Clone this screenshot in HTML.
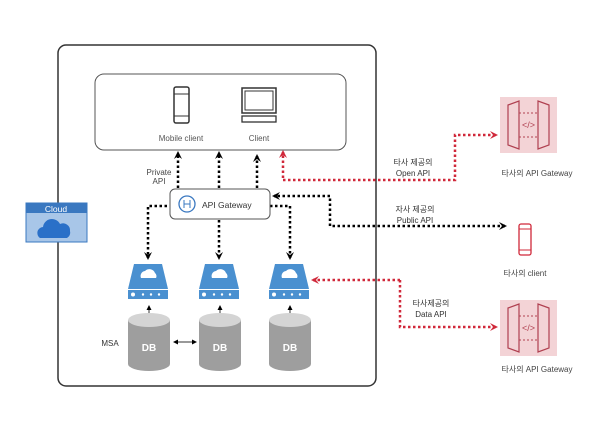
<!DOCTYPE html>
<html><head><meta charset="utf-8"><style>
body{margin:0;background:#fff;}
svg text{font-family:"Liberation Sans","Noto Sans CJK KR",sans-serif;}
</style></head><body>
<svg width="614" height="434" viewBox="0 0 614 434" xmlns="http://www.w3.org/2000/svg">
<defs>
<marker id="ab" markerWidth="8" markerHeight="8" refX="6" refY="4" orient="auto-start-reverse" markerUnits="userSpaceOnUse"><path d="M0,0 L8,4 L0,8 L3,4Z" fill="#000"/></marker>
<marker id="ar" markerWidth="8" markerHeight="8" refX="6" refY="4" orient="auto-start-reverse" markerUnits="userSpaceOnUse"><path d="M0,0 L8,4 L0,8 L3,4Z" fill="#d0283a"/></marker>
<marker id="as" markerWidth="5" markerHeight="5" refX="4" refY="2.5" orient="auto-start-reverse" markerUnits="userSpaceOnUse"><path d="M0,0 L5,2.5 L0,5Z" fill="#000"/></marker>
<g id="srv"><path d="M-14,-17 L14,-17 L20,8 L-20,8Z" fill="#4a90d0"/><path d="M-7,-3 a5,5 0 0 1 4,-7 a6,6 0 0 1 10,2 a4,4 0 0 1 1,5Z" fill="#fff"/><rect x="-20" y="9" width="40" height="9" fill="#4a90d0"/><circle cx="-15" cy="13.5" r="2" fill="#fff"/><circle cx="-5" cy="13.5" r="1.2" fill="#fff"/><circle cx="3" cy="13.5" r="1.2" fill="#fff"/><circle cx="11" cy="13.5" r="1.2" fill="#fff"/></g>
<g id="db"><path d="M-21,-22 L-21,22 A21,7 0 0 0 21,22 L21,-22Z" fill="#9e9e9e"/><ellipse cx="0" cy="-22" rx="21" ry="7" fill="#d4d4d4"/><text x="0" y="9" font-size="10" font-weight="bold" fill="#fff" text-anchor="middle">DB</text></g>
<g id="gw"><rect x="0" y="0" width="57" height="56" fill="#f3d3d6"/><path d="M8,8 L19,4 L19,52 L8,48Z M49,8 L38,4 L38,52 L49,48Z" fill="none" stroke="#b04050" stroke-width="1.2"/><path d="M19,16 H38 M19,40 H38" stroke="#b04050" stroke-dasharray="2,2"/><text x="28.5" y="31" font-size="9" fill="#b04050" text-anchor="middle">&lt;/&gt;</text></g>
</defs>
<rect x="58" y="45" width="318" height="341" rx="8" fill="none" stroke="#333" stroke-width="1.5"/>
<rect x="95" y="74" width="251" height="76" rx="9" fill="#fff" stroke="#555"/>
<rect x="174" y="87" width="15" height="36" rx="2" fill="none" stroke="#333" stroke-width="1.5"/><line x1="174" y1="94" x2="189" y2="94" stroke="#333"/><line x1="174" y1="116" x2="189" y2="116" stroke="#333"/>
<rect x="242" y="88" width="34" height="25" fill="none" stroke="#333" stroke-width="1.5"/><rect x="245" y="91" width="28" height="19" fill="none" stroke="#333"/><rect x="242" y="116" width="34" height="6" fill="none" stroke="#333" stroke-width="1.3"/>
<text x="181" y="141" font-size="8" fill="#555" text-anchor="middle">Mobile client</text>
<text x="259" y="141" font-size="8" fill="#555" text-anchor="middle">Client</text>
<rect x="26" y="203" width="61" height="39" fill="#a8c6e8" stroke="#3a78c0"/><rect x="26" y="203" width="61" height="10" fill="#3a78c0"/><text x="56" y="212" font-size="8.5" fill="#fff" text-anchor="middle">Cloud</text>
<path d="M40,238 a6,6 0 0 1 3,-11 a9,9 0 0 1 17,-3 a7,7 0 0 1 10,7 a6,6 0 0 1 -3,7Z" fill="#2a70c8"/>
<g stroke="#000" stroke-width="2.5" stroke-dasharray="2.5,2.5" fill="none">
<path d="M178,188 V153" marker-end="url(#ab)"/><path d="M219,188 V153" marker-end="url(#ab)"/><path d="M257,188 V156" marker-end="url(#ab)"/>
<path d="M172,206 H148 V258" marker-end="url(#ab)"/><path d="M219,220 V258" marker-end="url(#ab)"/><path d="M270,206 H290 V258" marker-end="url(#ab)"/>
<path d="M505,226 H330 V196 H274" marker-start="url(#ab)" marker-end="url(#ab)"/>
</g>
<g stroke="#d0283a" stroke-width="2.5" stroke-dasharray="2.5,2.5" fill="none">
<path d="M283,178 V152" marker-end="url(#ar)"/><path d="M283,180 H455 V135 H496" marker-end="url(#ar)"/>
<path d="M400,280 H313" marker-end="url(#ar)"/><path d="M400,280 V327 H496" marker-end="url(#ar)"/>
</g>
<rect x="170" y="189" width="100" height="30" rx="5" fill="#fff" stroke="#555"/>
<circle cx="187" cy="204" r="8" fill="none" stroke="#3a78c0" stroke-width="1.3"/><path d="M184,200 V208 M190,200 V208 M184,204 H190" stroke="#3a78c0"/>
<text x="202" y="208" font-size="8.5" fill="#333">API Gateway</text>
<text x="159" y="175" font-size="8" fill="#444" text-anchor="middle">Private</text><text x="159" y="184" font-size="8" fill="#444" text-anchor="middle">API</text>
<use href="#srv" x="148" y="281"/><use href="#srv" x="219" y="281"/><use href="#srv" x="289" y="281"/>
<g stroke="#333" fill="none"><path d="M149,318 V306" marker-end="url(#as)"/><path d="M220,318 V306" marker-end="url(#as)"/><path d="M290,318 V306" marker-end="url(#as)"/><path d="M174,342 H196" marker-start="url(#as)" marker-end="url(#as)"/></g>
<use href="#db" x="149" y="342"/><use href="#db" x="220" y="342"/><use href="#db" x="290" y="342"/>
<text x="110" y="346" font-size="8" fill="#333" text-anchor="middle">MSA</text>
<use href="#gw" x="500" y="97"/><use href="#gw" x="500" y="300"/>
<text x="537" y="176" font-size="8" fill="#444" text-anchor="middle">타사의 API Gateway</text>
<text x="537" y="372" font-size="8" fill="#444" text-anchor="middle">타사의 API Gateway</text>
<rect x="519" y="224" width="12" height="31" rx="2" fill="none" stroke="#d0283a" stroke-width="1.3"/><line x1="519" y1="229" x2="531" y2="229" stroke="#d0283a"/><line x1="519" y1="250" x2="531" y2="250" stroke="#d0283a"/>
<text x="525" y="276" font-size="8" fill="#444" text-anchor="middle">타사의 client</text>
<text x="413" y="165" font-size="8" fill="#333" text-anchor="middle">타사 제공의</text><text x="413" y="176" font-size="8" fill="#333" text-anchor="middle">Open API</text>
<text x="415" y="212" font-size="8" fill="#333" text-anchor="middle">자사 제공의</text><text x="415" y="223" font-size="8" fill="#333" text-anchor="middle">Public API</text>
<text x="431" y="306" font-size="8" fill="#333" text-anchor="middle">타사제공의</text><text x="431" y="317" font-size="8" fill="#333" text-anchor="middle">Data API</text>
</svg>
</body></html>
